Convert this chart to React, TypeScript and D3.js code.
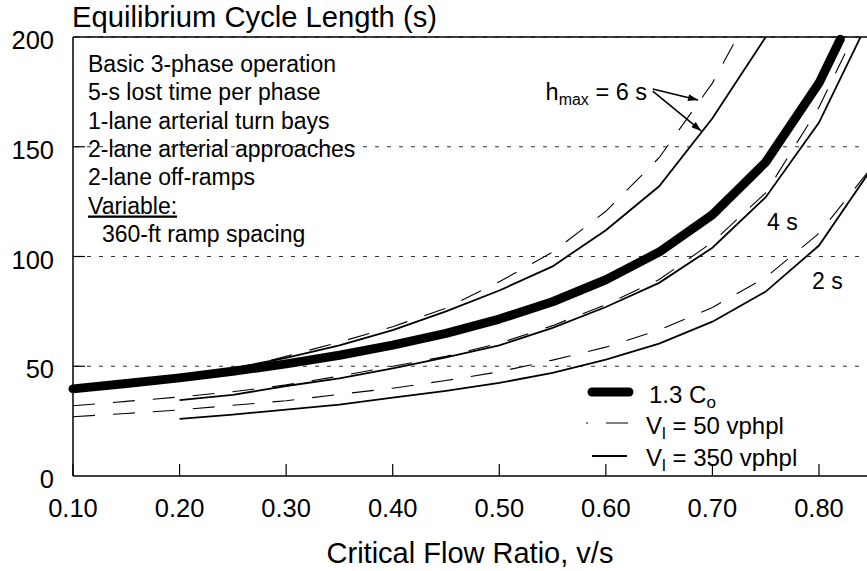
import React from 'react';
import * as d3 from 'd3';

// ---- data ----
const vsGrid = [0.10, 0.15, 0.20, 0.25, 0.30, 0.35, 0.40, 0.45, 0.50, 0.55, 0.60, 0.65, 0.70, 0.75, 0.80, 0.85];
const thickVs = [0.10, 0.15, 0.20, 0.25, 0.30, 0.35, 0.40, 0.45, 0.50, 0.55, 0.60, 0.65, 0.70, 0.75, 0.80, 0.82];
const thickCo13 = [39.7, 42.1, 44.7, 47.7, 51.1, 55, 59.6, 65, 71.5, 79.4, 89.4, 102, 119, 143, 179, 199];
const h6V50 = [40, 42, 45, 48.5, 54.5, 61, 68, 76.5, 88.5, 102, 120.6, 145, 179, 224, null, null];
const h6V350 = [null, null, 45, 49, 53.8, 59.5, 66.5, 75, 84.5, 95.5, 112, 132, 163, 200, null, null];
const h4V50 = [32, 34, 36, 38.4, 41.5, 45.5, 50, 54.5, 60.5, 68.5, 78, 89.5, 106.5, 129, 168, 218];
const h4V350 = [null, null, 34.6, 37, 41, 44.5, 49, 54, 59.5, 67.5, 77, 88, 104, 127, 161, 211];
const h2V50 = [27, 28.5, 30.1, 32.2, 34.3, 37.2, 40, 43.5, 47.5, 52.8, 58.7, 66.5, 76.8, 90.5, 110.5, 141];
const h2V350 = [null, null, 26, 28, 30.2, 32.5, 35.7, 38.8, 42.4, 47, 53, 60.3, 70.3, 84, 105, 140.5];

const xTicks = [0.1, 0.2, 0.3, 0.4, 0.5, 0.6, 0.7, 0.8];
const yTicks = [0, 50, 100, 150, 200];
const gridValues = [50, 100, 150, 200];
const noteLines = [
  'Basic 3-phase operation',
  '5-s lost time per phase',
  '1-lane arterial turn bays',
  '2-lane arterial approaches',
  '2-lane off-ramps',
];

const FONT = '"Liberation Sans", Arial, Helvetica, sans-serif';

export default function App() {
  const W = 867;
  const H = 571;
  const left = 73;
  const top = 37;
  const bottom = 476;
  const right = 867;
  const x = d3.scaleLinear().domain([0.1, 0.85]).range([left, left + 0.75 * 1065.7]);
  const y = d3.scaleLinear().domain([0, 200]).range([bottom, top]);

  const line = d3
    .line<[number, number | null]>()
    .defined((d) => d[1] != null)
    .x((d) => x(d[0]))
    .y((d) => y(d[1] as number))
    .curve(d3.curveLinear);

  const pairs = (xs: number[], ys: (number | null)[]) =>
    xs.map((v, i) => [v, ys[i]] as [number, number | null]);

  const curves = [
    { vals: h6V50, dashed: true },
    { vals: h6V350, dashed: false },
    { vals: h4V50, dashed: true },
    { vals: h4V350, dashed: false },
    { vals: h2V50, dashed: true },
    { vals: h2V350, dashed: false },
  ];

  const dashPattern = '22,18';

  return (
    <svg
      width={W}
      height={H}
      style={{ position: 'absolute', left: 0, top: 0, background: '#fff' }}
      fontFamily={FONT}
    >
      <defs>
        <clipPath id="plotClip">
          <rect x={left} y={top} width={right - left} height={bottom - top} />
        </clipPath>
        <marker
          id="arrowHead"
          viewBox="0 0 10 7"
          refX={10}
          refY={3.5}
          markerWidth={11}
          markerHeight={7}
          markerUnits="userSpaceOnUse"
          orient="auto"
        >
          <path d="M0,0 L10,3.5 L0,7 z" fill="#000" />
        </marker>
      </defs>
      <rect x={0} y={0} width={W} height={H} fill="#fff" />

      {/* grid lines */}
      {gridValues.map((v) => (
        <line
          key={'g' + v}
          x1={left}
          x2={right}
          y1={y(v)}
          y2={y(v)}
          stroke="#333"
          strokeWidth={1}
          strokeDasharray="4,8"
          strokeDashoffset={-14}
        />
      ))}

      {/* axes */}
      <line x1={left} x2={right} y1={top} y2={top} stroke="#000" strokeWidth={1.3} />
      <line x1={left} x2={left} y1={top} y2={bottom} stroke="#000" strokeWidth={1.5} />
      <line x1={left} x2={right} y1={bottom} y2={bottom} stroke="#000" strokeWidth={1.5} />
      {xTicks.map((t) => (
        <g key={'xt' + t}>
          <line x1={x(t)} x2={x(t)} y1={bottom} y2={bottom - 12} stroke="#000" strokeWidth={1.2} />
          <text x={x(t)} y={517} textAnchor="middle" fontSize={25.5} fill="#000">
            {t.toFixed(2)}
          </text>
        </g>
      ))}
      {yTicks.map((t) => (
        <g key={'yt' + t}>
          {t > 0 && t < 200 && (
            <line x1={left} x2={left + 12} y1={y(t)} y2={y(t)} stroke="#000" strokeWidth={1.2} />
          )}
          <text x={54} y={y(t) + 12} textAnchor="end" fontSize={25.5} fill="#000">
            {t}
          </text>
        </g>
      ))}

      {/* curves */}
      <g clipPath="url(#plotClip)">
        {curves.map((c, i) => (
          <path
            key={'c' + i}
            d={line(pairs(vsGrid, c.vals)) || ''}
            fill="none"
            stroke="#000"
            strokeWidth={c.dashed ? 1.1 : 1.8}
            strokeDasharray={c.dashed ? dashPattern : undefined}
          />
        ))}
      </g>
      <path
        d={line(pairs(thickVs, thickCo13)) || ''}
        fill="none"
        stroke="#000"
        strokeWidth={9}
        strokeLinecap="round"
        strokeLinejoin="round"
      />

      {/* titles */}
      <text x={72} y={27} fontSize={29.2} fill="#000">
        Equilibrium Cycle Length (s)
      </text>
      <text x={(left + right) / 2} y={563} fontSize={29} textAnchor="middle" fill="#000">
        Critical Flow Ratio, v/s
      </text>

      {/* notes */}
      {noteLines.map((s, i) => (
        <text key={'n' + i} x={88} y={72 + i * 28.3} fontSize={23} fill="#000">
          {s}
        </text>
      ))}
      <text x={88} y={72 + 5 * 28.3} fontSize={23} fill="#000" textDecoration="underline">
        Variable:
      </text>
      <text x={102} y={72 + 6 * 28.3} fontSize={23} fill="#000">
        360-ft ramp spacing
      </text>

      {/* curve labels */}
      <text x={647} y={100} fontSize={23.5} textAnchor="end" fill="#000">
        h<tspan fontSize={16} dy={5}>max</tspan>
        <tspan dy={-5}> = 6 s</tspan>
      </text>
      <line
        x1={x(0.644)}
        y1={y(176.3)}
        x2={x(0.6865)}
        y2={y(171.3)}
        stroke="#000"
        strokeWidth={1.6}
        markerEnd="url(#arrowHead)"
      />
      <line
        x1={x(0.644)}
        y1={y(175.3)}
        x2={x(0.6895)}
        y2={y(157.2)}
        stroke="#000"
        strokeWidth={1.6}
        markerEnd="url(#arrowHead)"
      />
      <text x={767} y={230} fontSize={23} fill="#000">
        4 s
      </text>
      <text x={812} y={289} fontSize={23} fill="#000">
        2 s
      </text>

      {/* legend */}
      <line x1={592} x2={629} y1={392} y2={392} stroke="#000" strokeWidth={9} strokeLinecap="round" />
      <text x={649} y={403} fontSize={24} fill="#000">
        1.3 C<tspan fontSize={17} dy={5}>o</tspan>
      </text>
      <line
        x1={586}
        x2={629}
        y1={423}
        y2={423}
        stroke="#000"
        strokeWidth={1.1}
        strokeDasharray={dashPattern}
        strokeDashoffset={20}
      />
      <text x={646} y={434} fontSize={24} fill="#000">
        V<tspan fontSize={17} dy={5}>l</tspan>
        <tspan dy={-5}> = 50 vphpl</tspan>
      </text>
      <line x1={592} x2={627} y1={456} y2={456} stroke="#000" strokeWidth={1.8} />
      <text x={646} y={466} fontSize={24} fill="#000">
        V<tspan fontSize={17} dy={5}>l</tspan>
        <tspan dy={-5}> = 350 vphpl</tspan>
      </text>
    </svg>
  );
}
